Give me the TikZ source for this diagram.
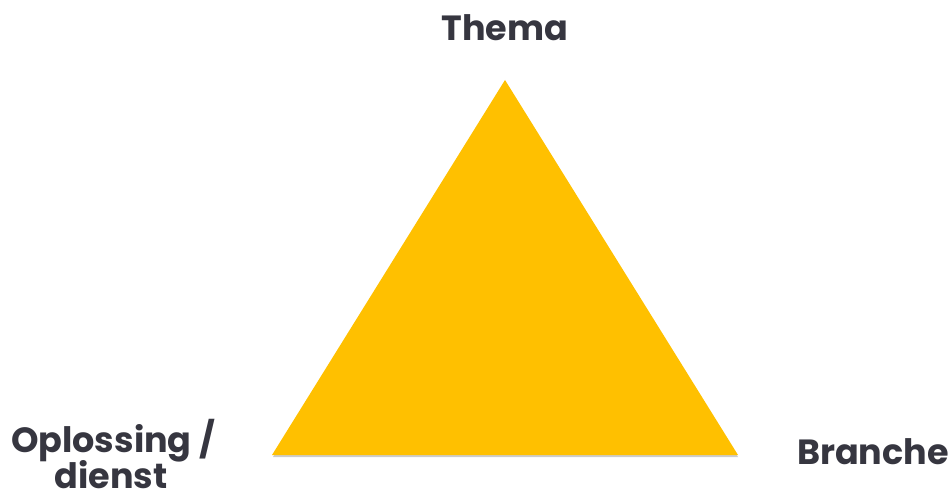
\documentclass[tikz,border=0pt]{standalone}
\usepackage{fontspec}
\setmainfont{Poppins}
\definecolor{tri}{HTML}{FFC000}
\definecolor{txt}{HTML}{363640}
\begin{document}
\begin{tikzpicture}[x=1pt,y=1pt,
  lbl/.style={font=\bfseries\fontsize{35}{38}\selectfont, text=txt, align=center, inner sep=0pt}]
\useasboundingbox (0,0) rectangle (949,496);
\fill[black!20] (273,39) -- (738,39) -- (505,415) -- cycle;
\fill[tri] (272,41) -- (738,41) -- (505,416) -- cycle;
\node[lbl] (thema) at (505,468) {Thema};
\node[lbl, anchor=base] (opl) at (113,44) {Oplossing /};
\node[lbl, anchor=base, text depth=0pt] (dienst) at (111,8) {dienst};
\node[lbl] (branche) at (873,44) {Branche};
\end{tikzpicture}
\end{document}
